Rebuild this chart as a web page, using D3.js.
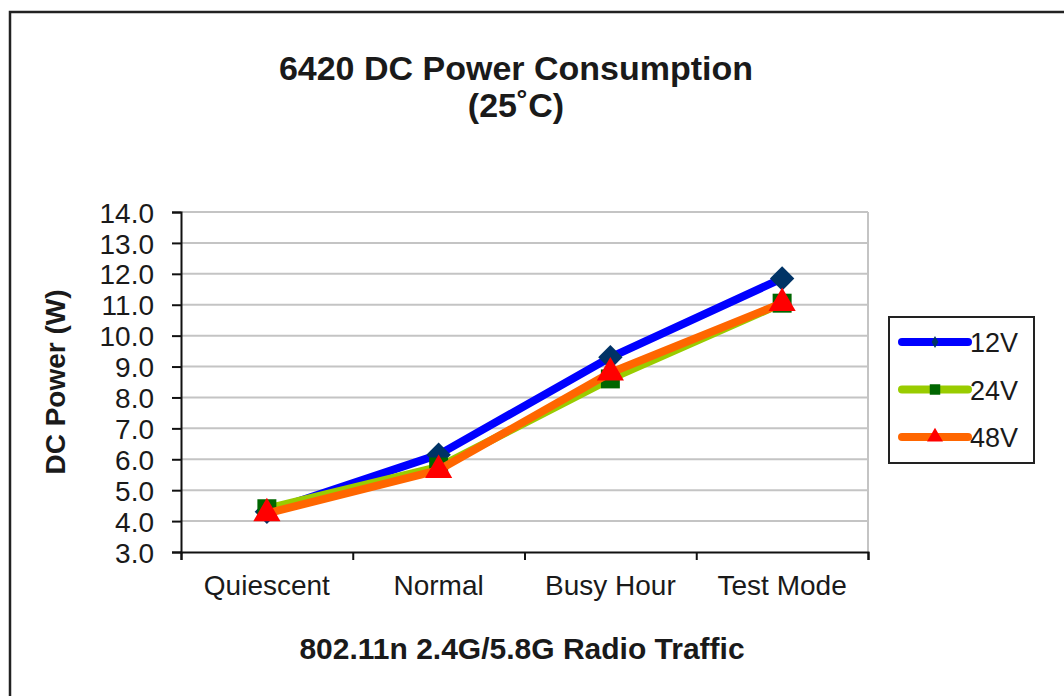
<!DOCTYPE html>
<html>
<head>
<meta charset="utf-8">
<script src="https://cdn.jsdelivr.net/npm/d3@7"></script>
<style>
  body { margin: 0; background: #fff; }
  text { font-family: "Liberation Sans", Arial, sans-serif; fill: #1a1a1a; }
</style>
</head>
<body>
<div id="chart"></div>
<script>
// 6420 DC power line chart

// Data
var categories = ["Quiescent", "Normal", "Busy Hour", "Test Mode"];
var seriesNames = ["12V", "24V", "48V"];
var power12 = [4.3, 6.15, 9.3, 11.85];
var power24 = [4.4, 5.75, 8.6, 11.05];
var power48 = [4.25, 5.65, 8.8, 11.05];
var yTicks = [3, 4, 5, 6, 7, 8, 9, 10, 11, 12, 13, 14];

var width = 1064;
var height = 696;

// plot area box
var plotLeft = 181, plotRight = 868, plotTop = 212, plotBottom = 552;

var svg = d3.select("#chart")
    .append("svg")
    .attr("width", width)
    .attr("height", height);

// outer chart frame (runs off the right/bottom edges)
svg.append("rect")
    .attr("x", 10)
    .attr("y", 12)
    .attr("width", width + 20)
    .attr("height", height + 20)
    .attr("fill", "#fff")
    .attr("stroke", "#222")
    .attr("stroke-width", 2.5);

// Scales
var xBand = d3.scaleBand().domain(categories).range([plotLeft, plotRight]).padding(0);
var xEdge = d3.scaleLinear().domain([0, categories.length]).range([plotLeft, plotRight]);
var yScale = d3.scaleLinear().domain([3, 14]).range([plotBottom, plotTop]);

function xMid(i) {
    return xBand(categories[i]) + xBand.bandwidth() / 2;
}

// gridlines
svg.append("g")
    .selectAll("line")
    .data(yTicks.slice(1))
    .enter()
    .append("line")
    .attr("x1", plotLeft)
    .attr("x2", plotRight)
    .attr("y1", function(d) { return yScale(d); })
    .attr("y2", function(d) { return yScale(d); })
    .attr("stroke", "#c4c4c4")
    .attr("stroke-width", 2);

// right border of plot area
svg.append("line")
    .attr("x1", plotRight).attr("x2", plotRight)
    .attr("y1", plotTop).attr("y2", plotBottom)
    .attr("stroke", "#c4c4c4")
    .attr("stroke-width", 2);

// Axes
var yAxis = d3.axisLeft(yScale)
    .tickValues(yTicks)
    .tickFormat(d3.format(".1f"))
    .tickSize(9)
    .tickPadding(18);

var yG = svg.append("g")
    .attr("transform", "translate(" + plotLeft + ",0)")
    .call(yAxis);
yG.selectAll("text")
    .attr("font-size", 28)
    .attr("dy", "0.36em")
    .style("font-family", "'Liberation Sans', Arial, sans-serif")
    .attr("fill", "#1a1a1a");

var xAxis = d3.axisBottom(xEdge)
    .tickValues(d3.range(0, categories.length + 1))
    .tickFormat("")
    .tickSize(8);

svg.append("g")
    .attr("transform", "translate(0," + plotBottom + ")")
    .call(xAxis);

svg.selectAll(".domain").attr("stroke", "#111").attr("stroke-width", 2);
svg.selectAll(".tick line").attr("stroke", "#111").attr("stroke-width", 2);

// category labels
svg.append("g")
    .selectAll("text")
    .data(categories)
    .enter()
    .append("text")
    .attr("x", function(d, i) { return xMid(i); })
    .attr("y", 595)
    .attr("text-anchor", "middle")
    .attr("font-size", 28)
    .text(function(d) { return d; });

// Titles
var title = svg.append("text")
    .attr("text-anchor", "middle")
    .attr("font-size", 34)
    .attr("font-weight", "bold");
title.append("tspan").attr("x", 516).attr("y", 80).text("6420 DC Power Consumption");
title.append("tspan").attr("x", 516).attr("y", 117).text("(25˚C)");

svg.append("text")
    .attr("x", 522)
    .attr("y", 659)
    .attr("text-anchor", "middle")
    .attr("font-size", 30)
    .attr("font-weight", "bold")
    .text("802.11n 2.4G/5.8G Radio Traffic");

svg.append("text")
    .attr("transform", "translate(65,382)rotate(-90)")
    .attr("text-anchor", "middle")
    .attr("font-size", 28)
    .attr("font-weight", "bold")
    .text("DC Power (W)");

// Series
var series = [
    { name: seriesNames[0], values: power12, line: "#0000ff", marker: "#003366", shape: d3.symbolDiamond2, size: 380 },
    { name: seriesNames[1], values: power24, line: "#99cc00", marker: "#006600", shape: d3.symbolSquare, size: 360 },
    { name: seriesNames[2], values: power48, line: "#ff6600", marker: "#ff0000", shape: d3.symbolTriangle, size: 320 }
];

var lineGen = d3.line()
    .x(function(d, i) { return xMid(i); })
    .y(function(d) { return yScale(d); });

series.forEach(function(s) {
    svg.append("path")
        .datum(s.values)
        .attr("d", lineGen)
        .attr("fill", "none")
        .attr("stroke", s.line)
        .attr("stroke-width", 8)
        .attr("stroke-linejoin", "round");

    svg.append("g")
        .selectAll("path")
        .data(s.values)
        .enter()
        .append("path")
        .attr("d", d3.symbol().type(s.shape).size(s.size))
        .attr("transform", function(d, i) {
            return "translate(" + xMid(i) + "," + yScale(d) + ")";
        })
        .attr("fill", s.marker);
});

// Legend
var legend = svg.append("g");
legend.append("rect")
    .attr("x", 889)
    .attr("y", 317)
    .attr("width", 145)
    .attr("height", 146)
    .attr("fill", "#fff")
    .attr("stroke", "#222")
    .attr("stroke-width", 2);

series.forEach(function(s, i) {
    var ly = 342 + i * 47.5;
    legend.append("line")
        .attr("x1", 902).attr("x2", 968)
        .attr("y1", ly).attr("y2", ly)
        .attr("stroke", s.line)
        .attr("stroke-width", 8)
        .attr("stroke-linecap", "round");
    // the 12V legend marker is a thin diamond
    var mshape = s.shape === d3.symbolDiamond2 ? d3.symbolDiamond : s.shape;
    var msize = s.shape === d3.symbolDiamond2 ? 40 : 110;
    legend.append("path")
        .attr("d", d3.symbol().type(mshape).size(msize))
        .attr("transform", "translate(935," + ly + ")")
        .attr("fill", s.marker);
    legend.append("text")
        .attr("x", 970)
        .attr("y", ly + 10)
        .attr("font-size", 27)
        .text(s.name);
});
</script>
</body>
</html>
